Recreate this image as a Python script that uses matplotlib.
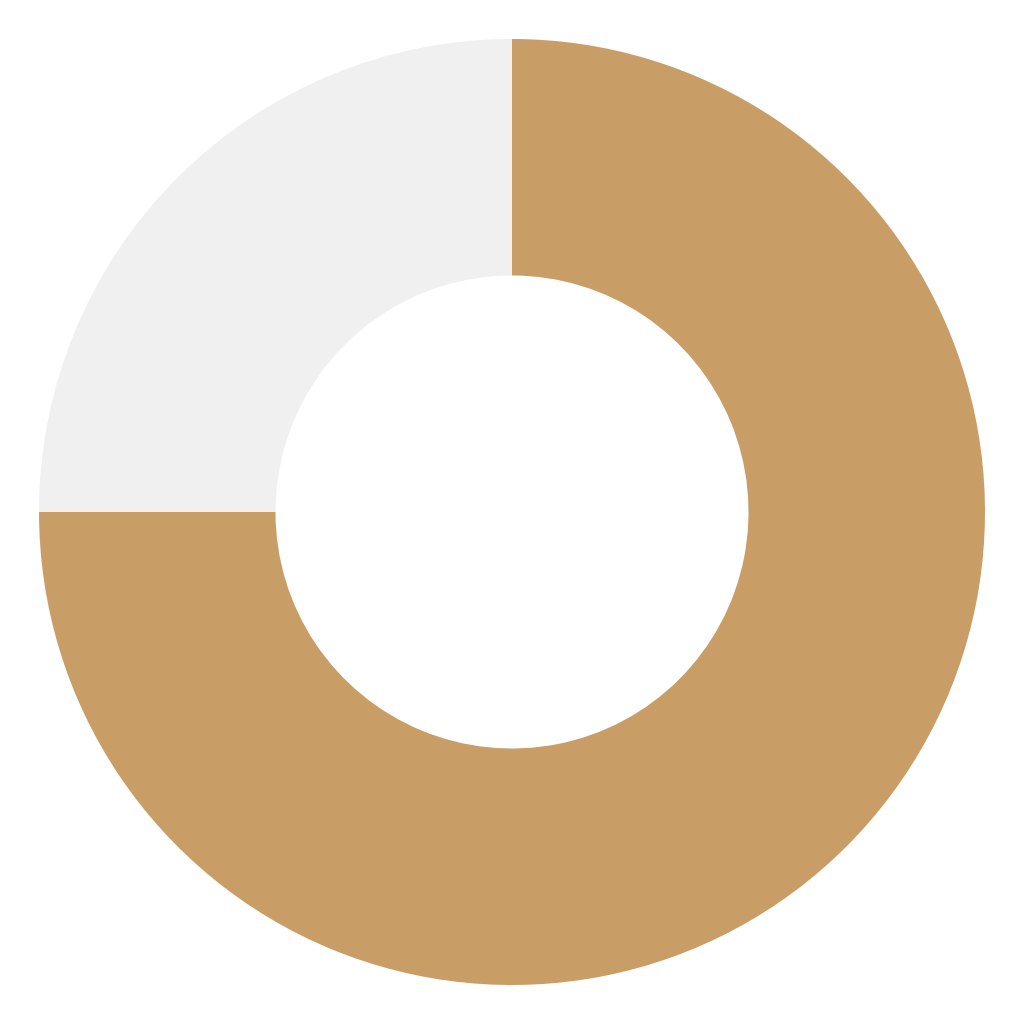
import numpy as np
import matplotlib
matplotlib.use("Agg")
import matplotlib.pyplot as plt

# share of the ring: filled part vs remainder
labels = ["Filled", "Remaining"]
values = [75, 25]
colors = ["#C89D66", "#F0F0F0"]

fig = plt.figure(figsize=(10.24, 10.24), dpi=100)
ax = fig.add_axes([0, 0, 1, 1])

ax.pie(values, colors=colors, startangle=90, counterclock=False,
       radius=1.0, wedgeprops=dict(width=0.5, linewidth=0, edgecolor="none"))

lim = 512 / 473
ax.set_xlim(-lim, lim)
ax.set_ylim(-lim, lim)
ax.set_aspect("equal")
ax.axis("off")

fig.savefig("out.png", dpi=100, facecolor="white")
